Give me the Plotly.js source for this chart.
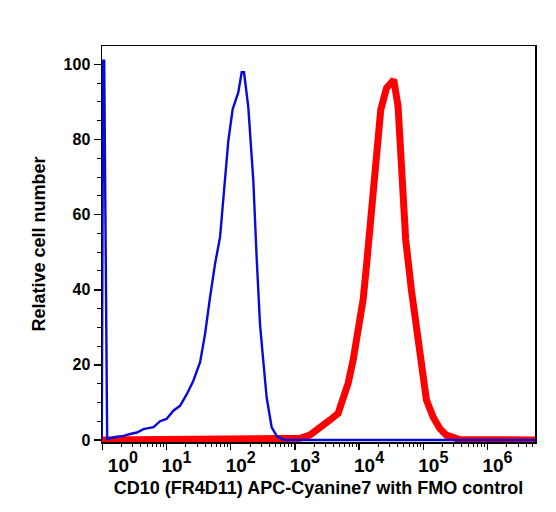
<!DOCTYPE html>
<html>
<head>
<meta charset="utf-8">
<script src="https://cdn.plot.ly/plotly-3.0.1.min.js"></script>
<style>html,body{margin:0;padding:0;background:#fff;}</style>
</head>
<body>
<div id="chart" style="width:556px;height:512px;"></div>
<script>
// FMO control (blue) histogram: fluorescence intensity vs relative cell number
const fmoX = [0.98, 1.03, 1.07, 1.19, 1.585, 2.138, 2.716, 3.451, 4.375, 5.236, 6.266, 7.943, 10.0, 12.79, 16.22, 20.70, 26.18, 33.34, 39.81, 47.64, 57.02, 68.23, 81.47, 91.84, 107.4, 131.5, 148.3, 161.1, 187.9, 224.9, 253.5, 285.8, 321.4, 363.1, 434.5, 520.0, 616.6, 707.9, 6309573];
const fmoY = [0, 101, 101, 0.3, 0.8, 1.1, 1.6, 2.0, 2.9, 3.1, 3.4, 5.0, 5.6, 7.8, 9.1, 12.2, 15.8, 20.7, 28.2, 38.0, 46.9, 54.0, 68.2, 79.7, 88.1, 92.6, 97.9, 97.9, 88.6, 69.1, 48.6, 30.9, 21.1, 11.3, 3.4, 1.1, 0.3, 0, 0];

// CD10 APC-Cyanine7 stained (red) histogram
const cd10X = [0.631, 1000, 1197, 1710, 2449, 3499, 4710, 5636, 6745, 8072, 9661, 11535, 13002, 14655, 16520, 18664, 21727, 26669, 34674, 40458, 45709, 53211, 65313, 78163, 93325, 111686, 141579, 179887, 228560, 289734, 368129, 6309573];
const cd10Y = [0, 0, 0.45, 1.3, 3.1, 5.3, 7.1, 10.7, 15.1, 21.3, 29.3, 37.3, 46.2, 56.8, 67.5, 77.2, 87.9, 93.7, 95.9, 88.8, 71.0, 53.3, 39.9, 29.3, 17.8, 10.7, 6.2, 3.1, 1.3, 0.45, 0.1, 0];

// Axis ticks
const xTickVals = [1, 10, 100, 1000, 10000, 100000, 1000000];
const xTickExp = ['0', '1', '2', '3', '4', '5', '6'];
const yTickVals = [0, 20, 40, 60, 80, 100];
const yTickText = ['0', '20', '40', '60', '80', '100'];

const xTitle = 'CD10 (FR4D11) APC-Cyanine7 with FMO control';
const yTitle = 'Relative cell number';

// tick label markup: base "10" with a large superscript exponent
const xTickText = xTickExp.map((e, i) =>
  (i === 0 ? '\u00a0\u00a0\u00a0\u00a0' : '') + '10<span style="font-size:23px"><sup>' + e + '</sup></span>');

// minor log ticks (2..9 within each decade)
const xMinor = [];
for (let d = 0; d <= 6; d++) {
  for (let m = 2; m <= 9; m++) xMinor.push(m * Math.pow(10, d));
}

const FONT = 'Liberation Sans, Arial, Helvetica, sans-serif';

const traces = [
  {x: cd10X, y: cd10Y, type: 'scatter', mode: 'lines',
   line: {color: '#ff0000', width: 7}, hoverinfo: 'skip'},
  {x: fmoX, y: fmoY, type: 'scatter', mode: 'lines',
   line: {color: '#0a0ad8', width: 2.4}, hoverinfo: 'skip'}
];

const layout = {
  width: 556, height: 512,
  margin: {l: 102, r: 21, t: 46, b: 70},
  paper_bgcolor: '#ffffff', plot_bgcolor: '#ffffff',
  showlegend: false,
  font: {family: FONT, color: '#000', size: 15},
  xaxis: {
    type: 'log', range: [-0.005, 6.74],
    tickmode: 'array', tickvals: xTickVals, ticktext: xTickText,
    ticks: 'outside', ticklen: 6, tickwidth: 1.5, tickcolor: '#000',
    minor: {tickmode: 'array', tickvals: xMinor, ticks: 'outside', ticklen: 3, tickwidth: 1, tickcolor: '#000', showgrid: false},
    ticklabelshift: 10,
    tickfont: {family: FONT, size: 19, weight: 'bold', color: '#000'},
    showline: true, linecolor: '#000', linewidth: 1.5, mirror: true,
    showgrid: false, zeroline: false,
    title: {text: xTitle, font: {family: FONT, size: 18, weight: 'bold', color: '#000'}, standoff: 6},
    automargin: false
  },
  yaxis: {
    range: [-0.53, 104.9],
    tickmode: 'array', tickvals: yTickVals, ticktext: yTickText,
    ticks: 'outside', ticklen: 7, tickwidth: 1.5, tickcolor: '#000',
    minor: {dtick: 5, ticks: 'outside', ticklen: 4, tickwidth: 1, tickcolor: '#000', showgrid: false},
    tickfont: {family: FONT, size: 16, weight: 'bold', color: '#000'},
    showline: true, linecolor: '#000', linewidth: 1.5, mirror: true,
    showgrid: false, zeroline: false,
    title: {text: yTitle, font: {family: FONT, size: 18, weight: 'bold', color: '#000'}, standoff: 13},
    automargin: false
  }
};

Plotly.newPlot('chart', traces, layout, {staticPlot: true, displayModeBar: false});
</script>
</body>
</html>
